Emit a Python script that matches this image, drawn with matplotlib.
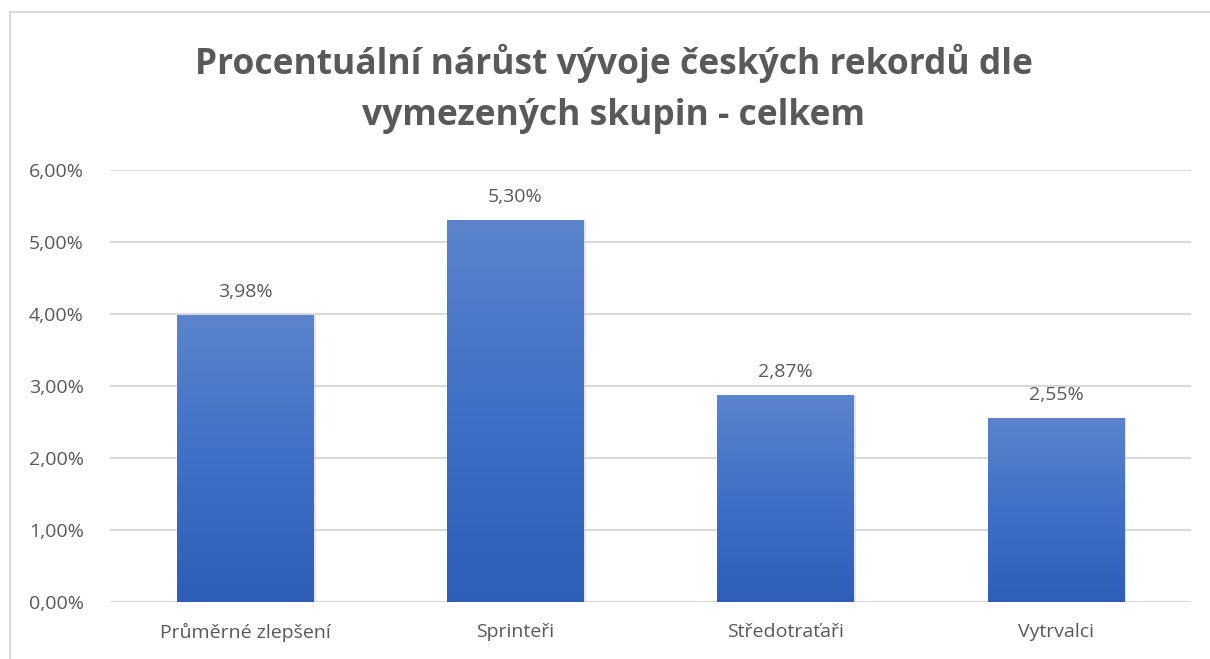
import numpy as np
import matplotlib.pyplot as plt
from matplotlib.patches import Rectangle
from matplotlib.colors import LinearSegmentedColormap

# Data
categories = ["Průměrné zlepšení", "Sprinteři", "Středotraťaři", "Vytrvalci"]
values = [3.98, 5.30, 2.87, 2.55]
yticks = [0, 1, 2, 3, 4, 5, 6]
title = "Procentuální nárůst vývoje českých rekordů dle\nvymezených skupin - celkem"

plt.rcParams['font.family'] = ['Open Sans', 'DejaVu Sans']
gray = '#595959'

fig = plt.figure(figsize=(12.1, 6.59), dpi=100)
W, H = 1210, 659
ax = fig.add_axes([110 / W, 1 - 602 / H, (1191 - 110) / W, (602 - 170) / H])

# outer chart frame
fig.add_artist(Rectangle((10 / W, -0.01), 1.0, 1 - 12 / H + 0.01, transform=fig.transFigure,
                         fill=False, edgecolor='#d9d9d9', linewidth=1.5))

cmap = LinearSegmentedColormap.from_list('bar', ['#2e5fb8', '#3f6fc6', '#5b84cc'])
grad = np.linspace(0, 1, 256).reshape(-1, 1)
x = np.arange(len(categories))
bw = 0.505
bars = ax.bar(x, values, width=bw, color='none', zorder=3)
for b, v in zip(bars, values):
    x0 = b.get_x()
    im = ax.imshow(grad, cmap=cmap, origin='lower', aspect='auto',
                   extent=(x0, x0 + bw, 0, v), zorder=3)
    im.set_clip_path(b)
    # faint shadow on the right side
    ax.add_patch(Rectangle((x0 + bw, 0), 0.008, v, color='#cccccc', alpha=0.5, zorder=2, lw=0))
    ax.text(b.get_x() + bw / 2, v + 0.2, f"{v:.2f}%".replace('.', ','),
            ha='center', va='bottom', fontsize=14, color=gray)

ax.set_xlim(-0.5, len(categories) - 0.5)
ax.set_ylim(0, 6)
ax.set_yticks(yticks)
ax.set_yticklabels([f"{t:.2f}%".replace('.', ',') for t in yticks])
ax.set_xticks(x)
ax.set_xticklabels(categories)
ax.tick_params(axis='both', length=0, labelsize=14, colors=gray)
ax.tick_params(axis='y', pad=19)
ax.tick_params(axis='x', pad=15)
ax.grid(axis='y', color='#d9d9d9', linewidth=1.5, zorder=0)
ax.set_axisbelow(True)
for s in ax.spines.values():
    s.set_visible(False)

fig.text(614 / W, 1 - 89 / H, title, ha='center', va='center', fontsize=25.5,
         fontweight='bold', color=gray, linespacing=1.55)

fig.savefig('out.png', dpi=100)
